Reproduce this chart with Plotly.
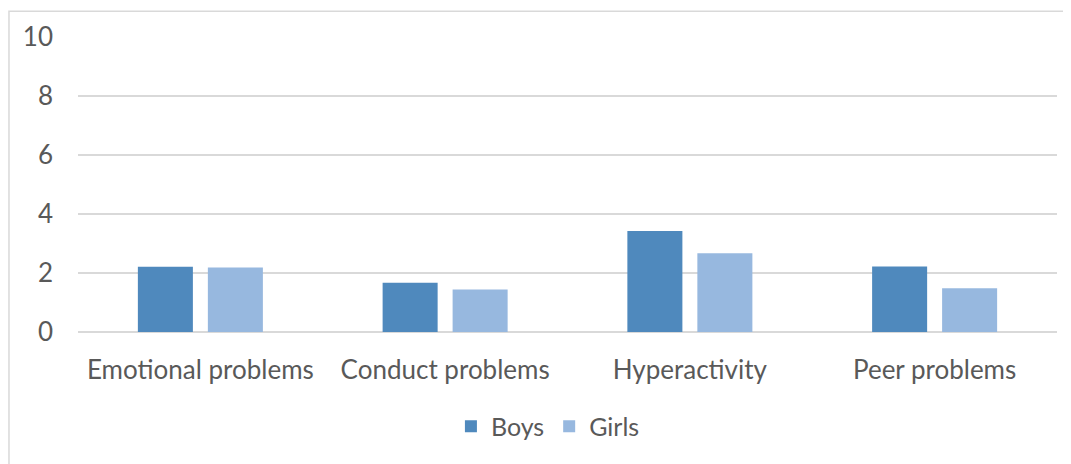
import plotly.graph_objects as go

categories = ["Emotional problems", "Conduct problems", "Hyperactivity", "Peer problems"]
boys = [2.21, 1.67, 3.42, 2.22]
girls = [2.19, 1.44, 2.67, 1.48]
y_ticks = [0, 2, 4, 6, 8, 10]

font_family = "Lato, 'Open Sans', sans-serif"
text_col = "#595959"

fig = go.Figure()
fig.add_trace(go.Bar(x=categories, y=boys, name="Boys",
                     marker=dict(color="#4F89BD", line=dict(width=0))))
fig.add_trace(go.Bar(x=categories, y=girls, name="Girls",
                     marker=dict(color="#97B8DF", line=dict(width=0))))

# page body has an 8px margin, so the figure sits 8px right/down in the window
fig.update_layout(
    width=1071, height=464,
    margin=dict(l=70, r=22, t=27, b=140),
    paper_bgcolor="white", plot_bgcolor="white",
    barmode="group", bargap=0.428, bargroupgap=0.214,
    font=dict(family=font_family, color=text_col, size=26),
    showlegend=True,
    legend=dict(orientation="h", x=0.48, xanchor="center", y=-0.32, yanchor="middle",
                font=dict(size=25, color=text_col), itemwidth=30, traceorder="normal"),
    xaxis=dict(showgrid=False, showline=False, ticks="", ticklabelstandoff=20,
               tickfont=dict(size=26, color=text_col)),
    yaxis=dict(range=[0, 10], tickvals=y_ticks, showgrid=True, gridcolor="#D9D9D9",
               gridwidth=1.5, zeroline=True, zerolinecolor="#D9D9D9", zerolinewidth=1.5,
               showline=False, ticks="", ticklabelstandoff=24,
               tickfont=dict(size=26, color=text_col)),
    shapes=[dict(type="rect", xref="paper", yref="paper",
                 x0=-0.0705, x1=1.03, y0=-0.5, y1=1.0875,
                 line=dict(color="#D9D9D9", width=1.5), fillcolor="rgba(0,0,0,0)",
                 layer="below")],
)

fig.write_html("out.html")
